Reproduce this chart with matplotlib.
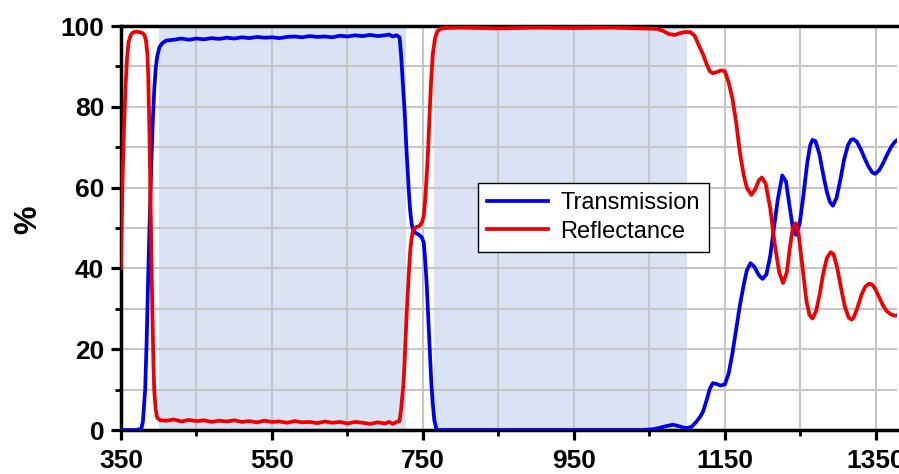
import matplotlib
matplotlib.use("Agg")
import matplotlib.pyplot as plt
from matplotlib.ticker import FixedLocator, MultipleLocator

# ---------------- data ----------------
trans_nm = [350, 370, 377, 379, 382, 384, 386, 388, 390, 392, 394, 396, 398, 401, 405,
            410, 420, 430, 440, 450, 460, 470, 480, 490, 500, 510, 520, 530, 540, 550,
            560, 570, 580, 590, 600, 610, 620, 630, 640, 650, 660, 670, 680, 690, 700,
            705, 710, 715, 719, 721, 723, 726, 728, 731, 733, 735, 737, 740, 744, 748,
            751, 753, 755, 757, 759, 761, 763, 765, 768, 800, 900, 1000, 1040, 1055,
            1065, 1073, 1081, 1088, 1095, 1100, 1106, 1112, 1117, 1121, 1126, 1130, 1134,
            1139, 1144, 1150, 1155, 1160, 1165, 1170, 1175, 1179, 1184, 1189, 1195, 1200,
            1205, 1210, 1215, 1220, 1226, 1231, 1236, 1240, 1244, 1249, 1254, 1259, 1263,
            1266, 1270, 1275, 1280, 1285, 1289, 1293, 1298, 1303, 1308, 1313, 1317, 1320,
            1325, 1330, 1335, 1340, 1345, 1349, 1354, 1359, 1365, 1370, 1375, 1380]
trans_val = [0, 0, 0.3, 2, 10, 22, 38, 52, 65, 76, 84, 89.5, 92.5, 94.8, 95.8,
             96.4, 96.6, 96.9, 96.6, 96.9, 96.7, 97.0, 96.8, 97.1, 96.9, 97.2, 97.0, 97.3, 97.1, 97.2,
             97.0, 97.3, 97.4, 97.2, 97.5, 97.3, 97.4, 97.2, 97.6, 97.4, 97.7, 97.5, 97.8, 97.5, 97.7,
             97.9, 97.4, 97.7, 97.2, 93, 87, 78, 70, 60, 54.5, 51, 49.6, 48.8, 48.4, 47.8,
             46.5, 42, 36, 28, 20, 12, 6.5, 2.5, 0, 0, 0, 0, 0, 0.2,
             0.6, 1.0, 1.3, 1.0, 0.6, 0.5, 0.8, 2.0, 3.2, 4.5, 7.5, 10.2, 11.6,
             11.4, 11.0, 11.3, 14, 19, 25, 31, 36, 39.5, 41.3, 40.4, 38.3, 37.4,
             38.5, 43, 50, 57, 63.0, 61.5, 55, 50, 48.3, 51, 58, 66, 70.5,
             71.8, 71.5, 68.5, 63.5, 59, 56.5, 55.5, 57.5, 62, 67, 70.5, 71.8, 72.0,
             71.3, 69.5, 67.3, 65.3, 63.8, 63.4, 64.2, 65.8, 68.2, 70.0, 71.3, 72.0]

refl_nm = [350, 351, 352, 353, 354, 356, 358, 360, 363, 366, 370, 374, 378, 381, 383,
           385, 386, 387, 388, 389, 390, 391, 392, 393, 394, 396, 398, 402, 410, 420,
           430, 440, 450, 460, 470, 480, 490, 500, 510, 520, 530, 540, 550, 560, 570,
           580, 590, 600, 610, 620, 630, 640, 650, 660, 670, 680, 690, 700, 705, 710,
           715, 719, 721, 724, 726, 728, 731, 733, 735, 737, 741, 746, 749, 751, 753,
           755, 757, 759, 761, 763, 766, 769, 773, 780, 800, 850, 900, 950, 1000, 1040,
           1060, 1068, 1076, 1084, 1090, 1097, 1104, 1110, 1116, 1121, 1126, 1130, 1134,
           1139, 1145, 1150, 1155, 1160, 1165, 1170, 1175, 1179, 1185, 1190, 1195, 1199,
           1204, 1210, 1216, 1222, 1227, 1232, 1236, 1240, 1244, 1248, 1253, 1258, 1262,
           1266, 1271, 1276, 1280, 1285, 1290, 1294, 1299, 1304, 1309, 1314, 1318, 1321,
           1326, 1331, 1336, 1341, 1345, 1349, 1354, 1359, 1364, 1370, 1375, 1380]
refl_val = [40, 52, 62, 68, 75, 85, 92, 96, 97.8, 98.4, 98.6, 98.5, 98.3, 97.8, 96.5,
            93, 88, 80, 70, 58, 46, 35, 25, 16, 10, 5, 3, 2.4, 2.3, 2.6,
            2.1, 2.5, 2.2, 2.4, 2.0, 2.3, 2.1, 2.4, 2.0, 2.2, 1.9, 2.3, 2.0, 2.1, 1.8,
            2.2, 1.9, 2.0, 1.7, 2.1, 1.8, 2.0, 1.6, 2.0, 1.8, 1.5, 1.9, 1.6, 2.0, 1.5,
            2.0, 2.2, 5, 11, 18, 27, 38, 44, 47.5, 49.5, 50.2, 50.6, 51.5, 53, 57,
            63, 70, 79, 87, 93, 97, 98.6, 99.3, 99.5, 99.6, 99.4, 99.6, 99.5, 99.6, 99.4,
            99.3, 98.8, 98.0, 97.8, 98.2, 98.5, 98.5, 97.6, 95, 93, 90.5, 88.8, 88.3,
            88.6, 89.0, 88.8, 86, 82, 76, 68.5, 63, 60, 58.2, 59.5, 61.8, 62.5,
            61, 55, 46, 39, 36.4, 39, 45, 50, 51.2, 48, 40, 32, 28.5,
            27.6, 29.5, 34, 38.5, 42.5, 44.0, 43.5, 40, 35, 30.5, 27.8, 27.3, 28,
            30.5, 33.5, 35.5, 36.2, 36.0, 35, 33, 31, 29.5, 28.6, 28.3, 28.5]

shade_spans = [(400, 727), (765, 1100)]
x_ticks = [350, 550, 750, 950, 1150, 1350]
x_minor = [450, 650, 850, 1050, 1250]
y_ticks = [0, 20, 40, 60, 80, 100]
legend_labels = ["Transmission", "Reflectance"]

# ---------------- figure ----------------
W, H = 899, 474
fig = plt.figure(figsize=(W / 100, H / 100), dpi=100)
ax = fig.add_axes([121 / W, 1 - 430 / H, (897 - 121) / W, (430 - 26) / H])

for a, b in shade_spans:
    ax.axvspan(a, b, color="#dae3f3", lw=0, zorder=0)

ax.set_axisbelow(True)
ax.grid(True, which="both", color="#c6c6c6", lw=1.5)

ax.plot(trans_nm, trans_val, color="#0000f0", lw=2.7, label=legend_labels[0], zorder=3)
ax.plot(refl_nm, refl_val, color="#f00000", lw=2.7, label=legend_labels[1], zorder=3)

ax.set_xlim(350, 1378)
ax.set_ylim(0, 100)
ax.set_xticks(x_ticks)
ax.set_yticks(y_ticks)
ax.xaxis.set_minor_locator(FixedLocator(x_minor))
ax.yaxis.set_minor_locator(MultipleLocator(10))

for s in ["left", "bottom", "top"]:
    ax.spines[s].set_linewidth(2.5)
    ax.spines[s].set_color("black")
ax.spines["right"].set_visible(False)

ax.tick_params(which="major", direction="out", length=7, width=2.3, pad=5)
ax.tick_params(axis="x", which="major", pad=7)
ax.tick_params(which="minor", direction="out", length=4, width=2.0)
ax.tick_params(top=False, right=False, which="both")

for lab in ax.get_xticklabels() + ax.get_yticklabels():
    lab.set_fontfamily("Liberation Sans")
    lab.set_fontweight("bold")
    lab.set_fontsize(19)

fig.text(28 / W, 1 - 220 / H, "%", rotation=90, ha="center", va="center",
         fontsize=23, fontweight="bold", family="Liberation Sans")

leg = ax.legend(loc="upper left", bbox_to_anchor=(0.46, 0.611), borderaxespad=0,
                prop={"family": "Liberation Sans", "size": 17},
                frameon=True, fancybox=False, framealpha=1, edgecolor="black",
                handlelength=2.6, handletextpad=0.5, labelspacing=0.28,
                borderpad=0.38)
leg.get_frame().set_linewidth(1.0)

fig.savefig("out.png", dpi=100)
